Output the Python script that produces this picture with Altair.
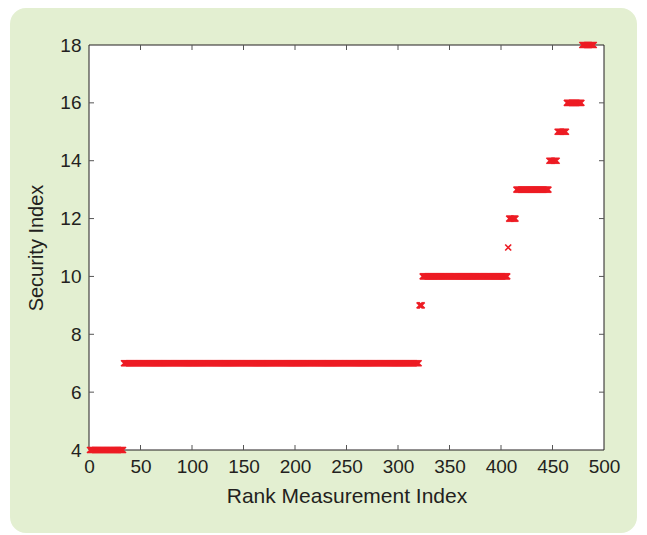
import altair as alt
import pandas as pd

# Step segments: (first rank, last rank, security index)
seg_start = [1, 34, 321, 324, 407, 408, 415, 447, 455, 464, 479]
seg_end = [33, 320, 323, 406, 407, 414, 446, 454, 463, 478, 490]
seg_level = [4, 7, 9, 10, 11, 12, 13, 14, 15, 16, 18]

x_ticks = [50, 100, 150, 200, 250, 300, 350, 400, 450]
y_ticks = [6, 8, 10, 12, 14, 16]
x_labels = [0, 50, 100, 150, 200, 250, 300, 350, 400, 450, 500]
y_labels = [4, 6, 8, 10, 12, 14, 16, 18]

rows = []
for s, e, lv in zip(seg_start, seg_end, seg_level):
    for i in range(s, e + 1):
        rows.append({"x": i, "y": lv})
pts = pd.DataFrame(rows)

W, H = 515, 405
FONT = "Liberation Sans"
TXT = "#231f20"
RED = "#ed1c24"
GREEN = "#e3efd1"

xs = alt.Scale(domain=[0, 500], nice=False, zero=False)
ys = alt.Scale(domain=[4, 18], nice=False, zero=False)

x_axis = alt.Axis(values=x_labels, ticks=False, domain=False, grid=False,
                  labelPadding=7, labelFlush=False, labelOverlap=False,
                  labelFont=FONT, labelFontSize=19, labelColor=TXT,
                  title="Rank Measurement Index", titleFont=FONT,
                  titleFontSize=21, titleFontWeight="normal", titleColor=TXT,
                  titlePadding=9, zindex=1)
y_axis = alt.Axis(values=y_labels, ticks=False, domain=False, grid=False,
                  labelPadding=8, labelOverlap=False, labelFlush=False,
                  labelFont=FONT, labelFontSize=19, labelColor=TXT,
                  title="Security Index", titleFont=FONT,
                  titleFontSize=20, titleFontWeight="normal", titleColor=TXT,
                  titlePadding=13, zindex=1)

X = alt.X("x:Q", scale=xs, axis=x_axis)
Y = alt.Y("y:Q", scale=ys, axis=y_axis)

one = alt.Data(values=[{"a": 1}])

bg = alt.Chart(one).mark_rect(fill=GREEN, cornerRadius=16).encode(
    x=alt.value(-79), x2=alt.value(548), y=alt.value(-37), y2=alt.value(488)
)
plotbg = alt.Chart(one).mark_rect(fill="white", stroke="#231f20", strokeWidth=1).encode(
    x=alt.value(0), x2=alt.value(W), y=alt.value(0), y2=alt.value(H)
)

xt = pd.DataFrame({"x": x_ticks})
yt = pd.DataFrame({"y": y_ticks})
TICK = "#555555"
bottom = alt.Chart(xt).mark_rule(color=TICK).encode(x=X, y=alt.value(H), y2=alt.value(H - 5))
top = alt.Chart(xt).mark_rule(color=TICK).encode(x=X, y=alt.value(0), y2=alt.value(5))
left = alt.Chart(yt).mark_rule(color=TICK).encode(y=Y, x=alt.value(0), x2=alt.value(5))
right = alt.Chart(yt).mark_rule(color=TICK).encode(y=Y, x=alt.value(W), x2=alt.value(W - 5))

points = alt.Chart(pts).mark_point(
    shape="M-1,-1L1,1M1,-1L-1,1", filled=False, stroke=RED, strokeWidth=1.6,
    size=36, opacity=1
).encode(x=X, y=Y)

chart = alt.layer(bg, plotbg, bottom, top, left, right, points).properties(
    width=W, height=H,
    padding={"left": 2, "top": 0, "right": 0, "bottom": 0},
    background="white",
).configure_view(stroke=None)

chart.save("out.html", embed_options={"renderer": "svg", "actions": False})
